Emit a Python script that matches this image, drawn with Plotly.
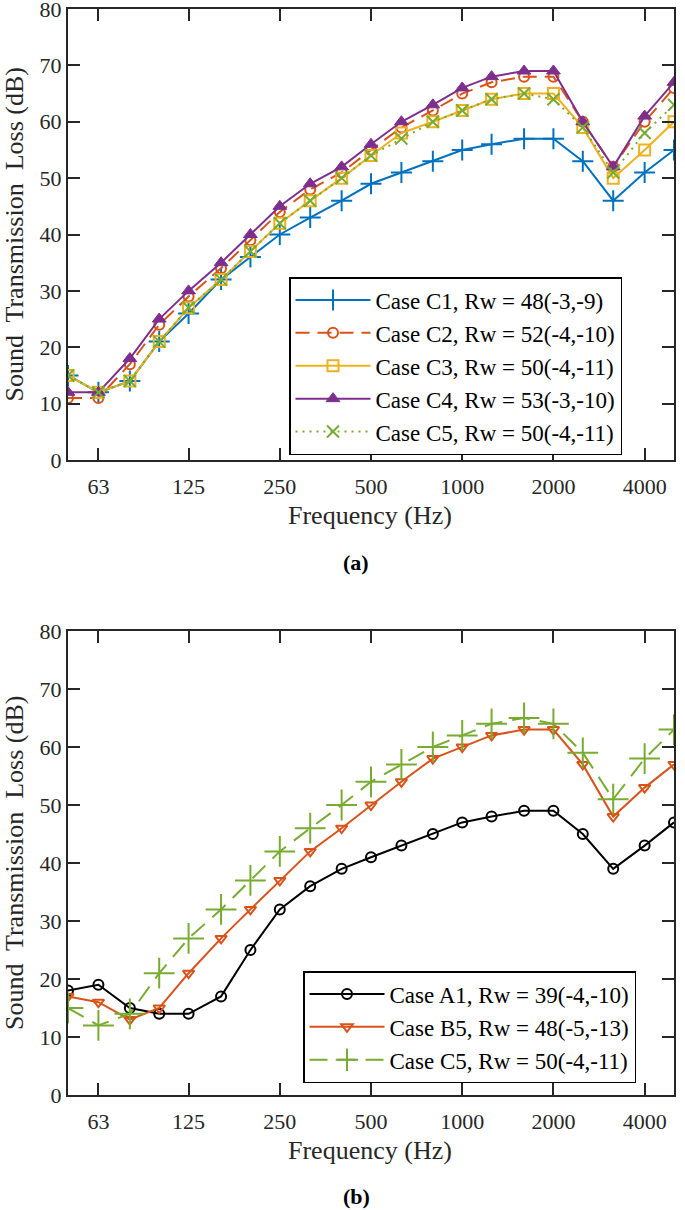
import numpy as np
import plotly.graph_objects as go

W, H = 685, 1210

freqs = [50, 63, 80, 100, 125, 160, 200, 250, 315, 400, 500, 630, 800, 1000,
         1250, 1600, 2000, 2500, 3150, 4000, 5000]
tick_vals = [63, 125, 250, 500, 1000, 2000, 4000]
tick_text = ["63", "125", "250", "500", "1000", "2000", "4000"]

# (a)
c1 = [15, 12, 14, 21, 26, 32, 36, 40, 43, 46, 49, 51, 53, 55, 56, 57, 57, 53, 46, 51, 55]
c2 = [11, 11, 17, 24, 29, 34, 39, 44, 48, 51, 55, 59, 62, 65, 67, 68, 68, 60, 52, 60, 66]
c3 = [15, 12, 14, 21, 27, 32, 37, 42, 46, 50, 54, 58, 60, 62, 64, 65, 65, 59, 50, 55, 60]
c4 = [12, 12, 18, 25, 30, 35, 40, 45, 49, 52, 56, 60, 63, 66, 68, 69, 69, 60, 52, 61, 67]
c5 = [15, 12, 14, 21, 27, 32, 37, 42, 46, 50, 54, 57, 60, 62, 64, 65, 64, 59, 51, 58, 63]
names_a = ["Case C1, Rw = 48(-3,-9)", "Case C2, Rw = 52(-4,-10)", "Case C3, Rw = 50(-4,-11)",
           "Case C4, Rw = 53(-3,-10)", "Case C5, Rw = 50(-4,-11)"]

# (b)
a1 = [18, 19, 15, 14, 14, 17, 25, 32, 36, 39, 41, 43, 45, 47, 48, 49, 49, 45, 39, 43, 47]
b5 = [17, 16, 13, 15, 21, 27, 32, 37, 42, 46, 50, 54, 58, 60, 62, 63, 63, 57, 48, 53, 57]
c5b = [15, 12, 14, 21, 27, 32, 37, 42, 46, 50, 54, 57, 60, 62, 64, 65, 64, 59, 51, 58, 63]
names_b = ["Case A1, Rw = 39(-4,-10)", "Case B5, Rw = 48(-5,-13)", "Case C5, Rw = 50(-4,-11)"]

BLUE, ORANGE, YELLOW, PURPLE, GREEN = "#0072BD", "#D95319", "#EDB120", "#7E2F8E", "#77AC30"
FONT = "Liberation Serif"
TXT = "#262626"

fig = go.Figure()

def add(y, name, color, dash, symbol, size, xa, ya, legend, mlw=2, lw=2):
    fig.add_trace(go.Scatter(x=freqs, y=y, name=name, mode="lines+markers",
                             line=dict(color=color, width=lw, dash=dash),
                             marker=dict(symbol=symbol, size=size, color=color,
                                         line=dict(color=color, width=mlw)),
                             xaxis=xa, yaxis=ya, legend=legend))

add(c1, names_a[0], BLUE, "solid", "cross-thin", 15, "x", "y", "legend")
add(c2, names_a[1], ORANGE, "14px,8px", "circle-open", 10, "x", "y", "legend")
add(c3, names_a[2], YELLOW, "solid", "square-open", 11, "x", "y", "legend")
add(c4, names_a[3], PURPLE, "solid", "triangle-up", 12, "x", "y", "legend", mlw=1)
add(c5, names_a[4], GREEN, "2px,5px", "x-thin", 12, "x", "y", "legend")

add(a1, names_b[0], "#000000", "solid", "circle-open", 10, "x2", "y2", "legend2")
add(b5, names_b[1], ORANGE, "solid", "triangle-down-open", 10, "x2", "y2", "legend2")
add(c5b, names_b[2], GREEN, "18px,10px", "cross-thin", 22, "x2", "y2", "legend2")

def px_x(p):
    return p / W

def px_y(p):
    return (H - p) / H

L, R = 68, 674
TOP_A, BOT_A = 9, 460
TOP_B, BOT_B = 631, 1095
axcommon = dict(showline=True, linecolor=TXT, linewidth=2, mirror="ticks",
                ticks="inside", ticklen=12, tickwidth=1.5, tickcolor=TXT,
                showgrid=False, zeroline=False, automargin=False,
                ticklabeloverflow="allow",
                tickfont=dict(family=FONT, size=22, color=TXT))
xcommon = dict(axcommon, type="log", range=[np.log10(50), np.log10(5000)],
               tickvals=tick_vals, ticktext=tick_text, domain=[px_x(L), px_x(R)],
               ticklabelstandoff=6)
ycommon = dict(axcommon, range=[0, 80], dtick=10, tick0=0)

legfont = dict(family=FONT, size=23, color="#000000")
fig.update_layout(
    width=W, height=H, margin=dict(l=0, r=0, t=0, b=0),
    paper_bgcolor="white", plot_bgcolor="white",
    font=dict(family=FONT, color=TXT),
    xaxis=dict(xcommon, anchor="y"),
    yaxis=dict(ycommon, anchor="x", domain=[px_y(BOT_A), px_y(TOP_A)]),
    xaxis2=dict(xcommon, anchor="y2"),
    yaxis2=dict(ycommon, anchor="x2", domain=[px_y(BOT_B), px_y(TOP_B)]),
    legend=dict(x=px_x(289), y=px_y(366), xanchor="left", yanchor="middle",
                bgcolor="white", bordercolor="#000000", borderwidth=1.5,
                font=legfont, tracegroupgap=0, itemwidth=75),
    legend2=dict(x=px_x(303), y=px_y(1027), xanchor="left", yanchor="middle",
                 bgcolor="white", bordercolor="#000000", borderwidth=1.5,
                 font=legfont, tracegroupgap=0, itemwidth=75),
    showlegend=True,
)

ann = []
for yc, xt in [((TOP_A + BOT_A) / 2, 515), ((TOP_B + BOT_B) / 2, 1150)]:
    ann.append(dict(x=px_x(14), y=px_y(yc), xref="paper", yref="paper",
                    xanchor="center", yanchor="middle",
                    text="Sound  Transmission  Loss (dB)", textangle=-90, showarrow=False,
                    font=dict(family=FONT, size=26, color=TXT)))
    ann.append(dict(x=px_x(370), y=px_y(xt), xref="paper", yref="paper",
                    xanchor="center", yanchor="middle",
                    text="Frequency (Hz)", showarrow=False,
                    font=dict(family=FONT, size=26, color=TXT)))
ann.append(dict(x=px_x(356), y=px_y(562), xref="paper", yref="paper", text="<b>(a)</b>",
                xanchor="center", yanchor="middle",
                showarrow=False, font=dict(family=FONT, size=22, color="#000000")))
ann.append(dict(x=px_x(356), y=px_y(1196), xref="paper", yref="paper", text="<b>(b)</b>",
                xanchor="center", yanchor="middle",
                showarrow=False, font=dict(family=FONT, size=22, color="#000000")))
fig.update_layout(annotations=ann)

fig.write_html("out.html", config={"displayModeBar": False},
               post_script="document.body.style.margin='0px';")
